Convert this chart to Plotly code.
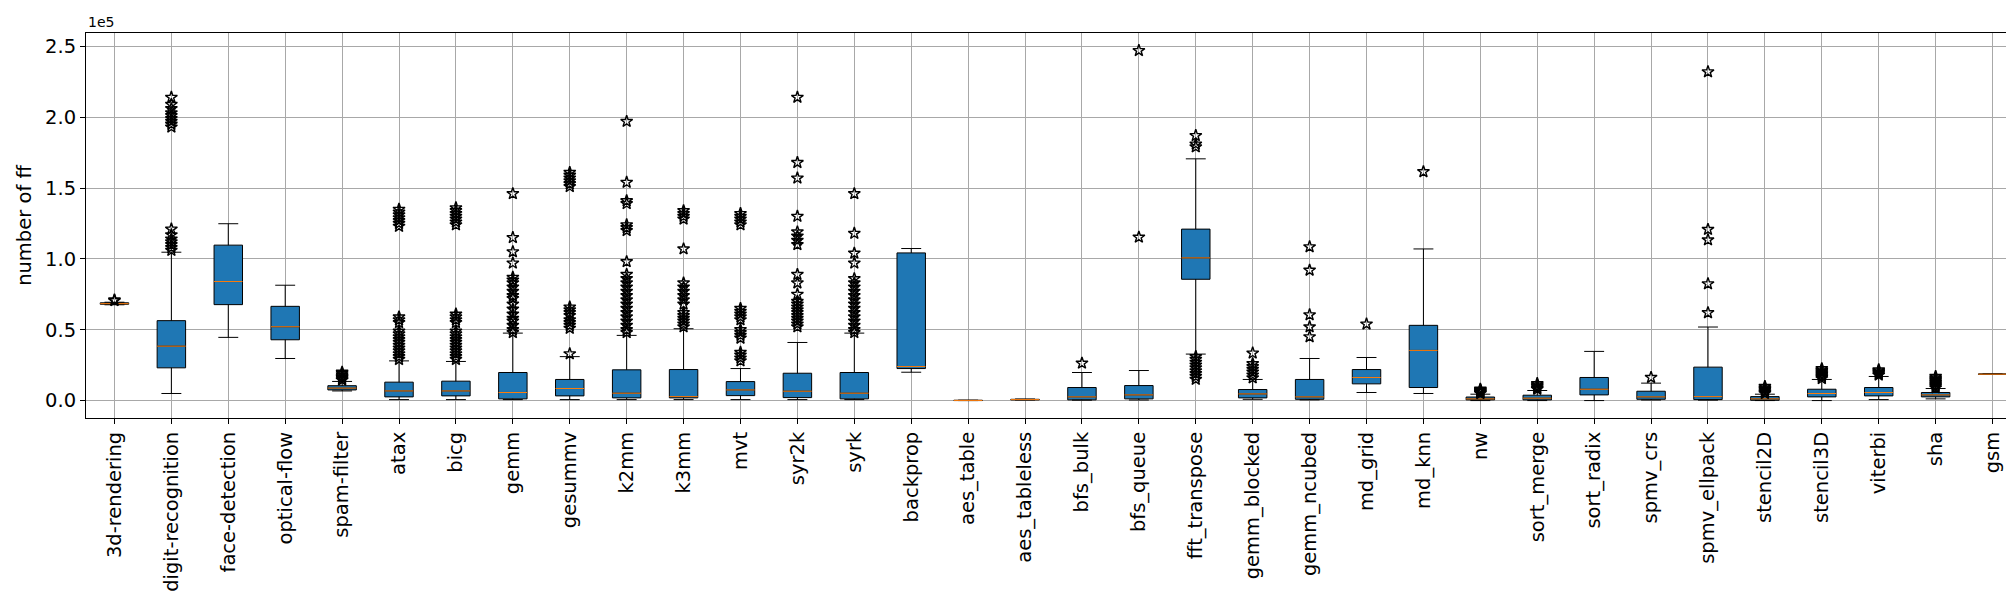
import plotly.graph_objects as go

# values in units of 1e5
categories = ["3d-rendering", "digit-recognition", "face-detection", "optical-flow", "spam-filter",
              "atax", "bicg", "gemm", "gesummv", "k2mm", "k3mm", "mvt", "syr2k", "syrk", "backprop",
              "aes_table", "aes_tableless", "bfs_bulk", "bfs_queue", "fft_transpose", "gemm_blocked",
              "gemm_ncubed", "md_grid", "md_knn", "nw", "sort_merge", "sort_radix", "spmv_crs",
              "spmv_ellpack", "stencil2D", "stencil3D", "viterbi", "sha", "gsm"]

q1 = [0.680, 0.231, 0.677, 0.429, 0.075, 0.026, 0.033, 0.012, 0.033, 0.019, 0.019, 0.035, 0.021, 0.012,
      0.226, 0.000, 0.005, 0.005, 0.012, 0.856, 0.019, 0.009, 0.118, 0.092, 0.005, 0.005, 0.040, 0.009,
      0.007, 0.002, 0.026, 0.033, 0.026, 0.186]
median = [0.684, 0.384, 0.840, 0.521, 0.088, 0.068, 0.068, 0.057, 0.085, 0.052, 0.028, 0.075, 0.066, 0.052,
          0.240, 0.001, 0.007, 0.026, 0.040, 1.007, 0.047, 0.026, 0.163, 0.354, 0.012, 0.017, 0.080, 0.026,
          0.028, 0.012, 0.050, 0.057, 0.040, 0.186]
q3 = [0.690, 0.564, 1.097, 0.665, 0.105, 0.130, 0.137, 0.198, 0.149, 0.217, 0.219, 0.134, 0.193, 0.198,
      1.042, 0.002, 0.009, 0.092, 0.106, 1.210, 0.078, 0.149, 0.219, 0.531, 0.025, 0.038, 0.163, 0.066,
      0.236, 0.028, 0.080, 0.092, 0.057, 0.187]
whisker_low = [0.676, 0.050, 0.446, 0.297, 0.068, 0.007, 0.007, 0.007, 0.007, 0.007, 0.007, 0.007, 0.007, 0.007,
               0.200, 0.000, 0.004, 0.003, 0.004, 0.328, 0.009, 0.005, 0.057, 0.050, 0.000, 0.000, 0.000, 0.004,
               0.003, 0.000, 0.000, 0.007, 0.012, 0.185]
whisker_high = [0.694, 1.047, 1.248, 0.814, 0.135, 0.280, 0.276, 0.476, 0.310, 0.460, 0.507, 0.226, 0.410, 0.476,
                1.073, 0.003, 0.011, 0.198, 0.212, 1.706, 0.149, 0.297, 0.304, 1.070, 0.045, 0.071, 0.347, 0.123,
                0.519, 0.045, 0.149, 0.170, 0.085, 0.188]

outliers = [
    [0.705, 0.710],
    [1.06, 1.08, 1.10, 1.12, 1.14, 1.17, 1.21, 1.93, 1.95, 1.97, 1.99, 2.01, 2.03, 2.06, 2.09, 2.14],
    [],
    [],
    [0.145, 0.155, 0.165, 0.175, 0.19, 0.20],
    [0.29, 0.31, 0.33, 0.35, 0.37, 0.39, 0.41, 0.43, 0.45, 0.47, 0.49, 0.55, 0.57, 0.59,
     1.23, 1.25, 1.27, 1.29, 1.31, 1.33, 1.35],
    [0.29, 0.31, 0.33, 0.35, 0.37, 0.39, 0.41, 0.43, 0.45, 0.47, 0.49, 0.55, 0.57, 0.59, 0.61,
     1.24, 1.26, 1.28, 1.30, 1.32, 1.34, 1.36],
    [0.48, 0.50, 0.53, 0.56, 0.58, 0.61, 0.645, 0.68, 0.72, 0.74, 0.77, 0.80, 0.83, 0.85, 0.87,
     0.97, 1.05, 1.15, 1.46],
    [0.33, 0.51, 0.53, 0.55, 0.57, 0.60, 0.62, 0.64, 0.66, 1.51, 1.53, 1.55, 1.57, 1.59, 1.61],
    [0.48, 0.50, 0.53, 0.56, 0.59, 0.62, 0.65, 0.68, 0.71, 0.74, 0.77, 0.80, 0.83, 0.86, 0.89,
     0.98, 1.20, 1.22, 1.24, 1.39, 1.41, 1.54, 1.97],
    [0.52, 0.54, 0.56, 0.58, 0.60, 0.62, 0.68, 0.71, 0.74, 0.77, 0.80, 0.83, 1.07, 1.28, 1.30, 1.32, 1.34],
    [0.28, 0.30, 0.32, 0.34, 0.44, 0.46, 0.48, 0.50, 0.57, 0.59, 0.61, 0.63, 0.65,
     1.24, 1.26, 1.28, 1.30, 1.32],
    [0.52, 0.54, 0.56, 0.58, 0.60, 0.62, 0.64, 0.66, 0.68, 0.70, 0.75, 0.83, 0.89,
     1.10, 1.13, 1.16, 1.19, 1.30, 1.57, 1.68, 2.14],
    [0.48, 0.50, 0.53, 0.56, 0.59, 0.62, 0.65, 0.68, 0.71, 0.74, 0.77, 0.80, 0.83, 0.86,
     0.97, 1.04, 1.18, 1.46],
    [],
    [],
    [],
    [0.264],
    [1.153, 2.47],
    [0.15, 0.17, 0.19, 0.21, 0.23, 0.25, 0.27, 0.29, 0.31, 1.79, 1.81, 1.87],
    [0.16, 0.18, 0.20, 0.22, 0.24, 0.26, 0.335],
    [0.45, 0.52, 0.605, 0.92, 1.085],
    [0.54],
    [1.615],
    [0.05, 0.055, 0.06, 0.065, 0.07, 0.075, 0.08],
    [0.08, 0.09, 0.10, 0.11, 0.12],
    [],
    [0.163],
    [0.62, 0.824, 1.134, 1.208, 2.32],
    [0.05, 0.06, 0.07, 0.08, 0.09, 0.10],
    [0.155, 0.165, 0.175, 0.185, 0.195, 0.205, 0.215, 0.225],
    [0.18, 0.19, 0.20, 0.21, 0.217],
    [0.09, 0.10, 0.11, 0.12, 0.13, 0.14, 0.15, 0.16, 0.17],
    [],
]

y_ticks = [0.0, 0.5, 1.0, 1.5, 2.0, 2.5]

positions = list(range(1, len(categories) + 1))
BOX_W = 0.5

fig = go.Figure()

fig.add_trace(go.Box(
    x=positions, q1=q1, median=median, q3=q3,
    lowerfence=whisker_low, upperfence=whisker_high,
    width=BOX_W, whiskerwidth=0.7,
    fillcolor="#1f77b4", line=dict(color="black", width=1),
    boxpoints=False, showlegend=False, hoverinfo="skip",
))

# median lines (orange)
mx, my = [], []
for p, m in zip(positions, median):
    mx += [p - BOX_W / 2, p + BOX_W / 2, None]
    my += [m, m, None]
fig.add_trace(go.Scatter(x=mx, y=my, mode="lines", line=dict(color="#ff7f0e", width=1),
                         showlegend=False, hoverinfo="skip"))

# outliers
ox, oy = [], []
for p, vals in zip(positions, outliers):
    ox += [p] * len(vals)
    oy += vals
fig.add_trace(go.Scatter(x=ox, y=oy, mode="markers",
                         marker=dict(symbol="star-open", size=9, color="black", line=dict(width=1.4, color="black")),
                         showlegend=False, hoverinfo="skip"))

font_family = "DejaVu Sans"
fig.update_layout(
    width=2014, height=600,
    margin=dict(l=78, r=1, t=25, b=190),
    paper_bgcolor="white", plot_bgcolor="white",
    font=dict(family=font_family, size=19.5, color="black"),
    xaxis=dict(
        range=[0.5, len(categories) + 0.5],
        tickmode="array", tickvals=positions, ticktext=categories, tickangle=-90,
        ticks="outside", ticklen=5, tickcolor="black", tickwidth=1,
        showgrid=True, gridcolor="#a8a8a8", gridwidth=1,
        showline=True, linecolor="black", linewidth=1, mirror=True,
        zeroline=False, tickfont=dict(size=19.5),
    ),
    yaxis=dict(
        range=[-0.123, 2.594],
        tickmode="array", tickvals=y_ticks, ticktext=[f"{v:.1f}" for v in y_ticks],
        ticks="outside", ticklen=5, tickcolor="black", tickwidth=1,
        showgrid=True, gridcolor="#a8a8a8", gridwidth=1,
        showline=True, linecolor="black", linewidth=1, mirror=True,
        zeroline=False, tickfont=dict(size=19.5),
        title=dict(text="number of ff", font=dict(size=19.5), standoff=8),
    ),
    annotations=[dict(text="1e5", xref="paper", yref="paper", x=0, y=1, xanchor="left", yanchor="bottom",
                      showarrow=False, font=dict(size=14, family=font_family), yshift=1)],
)

fig.write_html("out.html")
